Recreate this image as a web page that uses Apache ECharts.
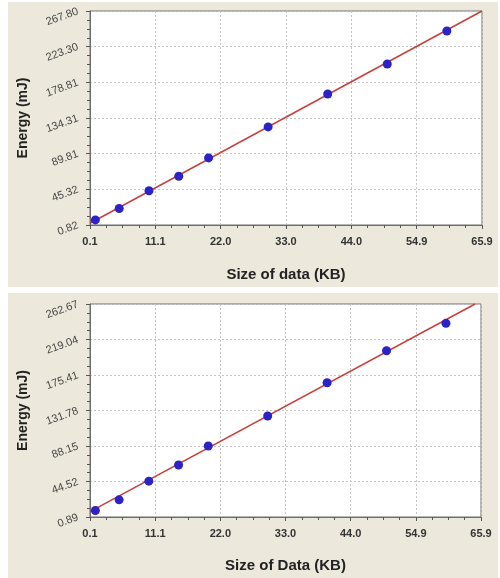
<!DOCTYPE html>
<html>
<head>
<meta charset="utf-8">
<script src="https://cdn.jsdelivr.net/npm/echarts@6/dist/echarts.min.js"></script>
<style>
  body { margin: 0; background: #fff; width: 500px; height: 578px; position: relative; }
  .panel { position: absolute; left: 8px; width: 490px; background: #ece9dc; }
  #chart1 { top: 2px; height: 285px; }
  #chart2 { top: 293px; height: 285px; }
</style>
</head>
<body>
<div id="chart1" class="panel"></div>
<div id="chart2" class="panel"></div>
<script>
  'use strict'

  // top chart
  var sizes1 = [1, 5, 10, 15, 20, 30, 40, 50, 60];
  var energy1 = [7.2, 21.4, 43.5, 61.6, 84.5, 123.2, 164.3, 201.7, 242.8];
  var fitX1 = [0.1, 65.9];
  var fitY1 = [3.0, 267.8];
  var xTicks1 = ['0.1', '11.1', '22.0', '33.0', '44.0', '54.9', '65.9'];
  var yTicks1 = ['0.82', '45.32', '89.81', '134.31', '178.81', '223.30', '267.80'];

  // bottom chart
  var sizes2 = [1, 5, 10, 15, 20, 30, 40, 50, 60];
  var energy2 = [8.9, 22.0, 44.9, 64.8, 88.1, 125.0, 165.9, 205.2, 238.9];
  var fitX2 = [0.1, 64.9];
  var fitY2 = [7.5, 262.67];
  var xTicks2 = ['0.1', '11.1', '22.0', '33.0', '44.0', '54.9', '65.9'];
  var yTicks2 = ['0.89', '44.52', '88.15', '131.78', '175.41', '219.04', '262.67'];

  function makeOption(sizes, energy, fitX, fitY, xTicks, yTicks, xName, grid, xGap) {
    var pts = sizes.map(function (s, i) { return [s, energy[i]]; });
    var fit = fitX.map(function (s, i) { return [s, fitY[i]]; });
    var font = 'Liberation Sans, Arial, sans-serif';
    return {
      animation: false,
      grid: {
        left: grid.left, top: grid.top, right: grid.right, height: grid.height,
        show: true, backgroundColor: '#ffffff', borderColor: '#6e6e6e', borderWidth: 1
      },
      xAxis: [
        {
          type: 'value', show: false,
          min: parseFloat(xTicks[0]), max: parseFloat(xTicks[xTicks.length - 1])
        },
        {
          type: 'value', position: 'bottom', min: 0, max: xTicks.length - 1, interval: 1,
          name: xName, nameLocation: 'middle', nameGap: xGap,
          nameTextStyle: { fontFamily: font, fontSize: 15, fontWeight: 'bold', color: '#222' },
          axisLine: { show: true, lineStyle: { color: '#6e6e6e', width: 1 } },
          axisTick: { show: true, length: 4, lineStyle: { color: '#555' } },
          minorTick: { show: true, splitNumber: 4, length: 3, lineStyle: { color: '#555' } },
          axisLabel: {
            margin: 11, fontFamily: font, fontSize: 11, fontWeight: 'bold', color: '#333',
            formatter: function (v) { return xTicks[Math.round(v)]; }
          },
          splitLine: { show: true, lineStyle: { color: '#c4c4c4', type: [2, 2], width: 1 } }
        }
      ],
      yAxis: [
        {
          type: 'value', show: false,
          min: parseFloat(yTicks[0]), max: parseFloat(yTicks[yTicks.length - 1])
        },
        {
          type: 'value', position: 'left', min: 0, max: yTicks.length - 1, interval: 1,
          name: 'Energy (mJ)', nameLocation: 'middle', nameGap: 60,
          nameTextStyle: { fontFamily: font, fontSize: 14, fontWeight: 'bold', color: '#222' },
          axisLine: { show: true, lineStyle: { color: '#6e6e6e', width: 1 } },
          axisTick: { show: true, length: 4, lineStyle: { color: '#555' } },
          minorTick: { show: true, splitNumber: 4, length: 3, lineStyle: { color: '#555' } },
          axisLabel: {
            margin: 12, rotate: 20, fontFamily: font, fontSize: 11, color: '#444',
            formatter: function (v) { return yTicks[Math.round(v)]; }
          },
          splitLine: { show: true, lineStyle: { color: '#c4c4c4', type: [2, 2], width: 1 } }
        }
      ],
      series: [
        {
          type: 'line', xAxisIndex: 0, yAxisIndex: 0, data: fit,
          symbol: 'none', lineStyle: { color: '#c8403c', width: 1.5 }, z: 2
        },
        {
          type: 'scatter', xAxisIndex: 0, yAxisIndex: 0, data: pts,
          symbolSize: 9, itemStyle: { color: '#2b22c8', opacity: 1 }, z: 3
        }
      ]
    };
  }

  var chart1 = echarts.init(document.getElementById('chart1'));
  chart1.setOption(makeOption(sizes1, energy1, fitX1, fitY1, xTicks1, yTicks1,
    'Size of data (KB)', { left: 78, top: 9, right: 16, height: 221 }, 42));

  var chart2 = echarts.init(document.getElementById('chart2'));
  chart2.setOption(makeOption(sizes2, energy2, fitX2, fitY2, xTicks2, yTicks2,
    'Size of Data (KB)', { left: 74, top: 11, right: 17, height: 220 }, 41));
</script>
</body>
</html>
